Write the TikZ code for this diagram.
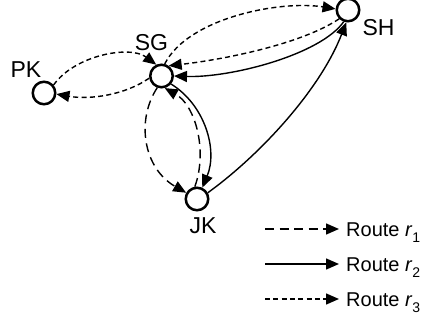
\documentclass[tikz,border=0pt]{standalone}
\usepackage{fontspec}
\setmainfont{Liberation Sans}
\usetikzlibrary{arrows.meta}
\begin{document}
\begin{tikzpicture}[x=1pt,y=-1pt,
  station/.style={circle,draw,line width=2.5pt,minimum size=22.5pt,inner sep=0pt},
  lbl/.style={anchor=base,inner sep=0pt,font=\fontsize{23}{23}\selectfont},
  leg/.style={anchor=base west,inner sep=0pt,font=\fontsize{20}{20}\selectfont},
  route/.style={line width=1.4pt,-{Triangle[length=13pt,width=11pt]}},
  rA/.style={route,dash pattern=on 9pt off 5.5pt},
  rB/.style={route},
  rC/.style={route,dash pattern=on 5pt off 3.3pt}]
\path[use as bounding box] (0,0) rectangle (429,321);
% stations
\node[station] (SG) at (161.5,76) {};
\node[station] (PK) at (44,93) {};
\node[station] (SH) at (348,10) {};
\node[station] (JK) at (197,199) {};
% labels
\node[lbl] (SGl) at (151.5,50.5) {SG};
\node[lbl] (PKl) at (26,77.5) {PK};
\node[lbl] (SHl) at (378.5,35.5) {SH};
\node[lbl] (JKl) at (203,233.5) {JK};
% routes
\draw[rC] (SG.75) .. controls (188,18) and (280,0) .. (SH.175);
\draw[rC] (SH.225) .. controls (300,45) and (220,60) .. (SG.55);
\draw[rB] (SH.250) .. controls (320,55) and (230,78) .. (SG.0);
\draw[rB] (JK.30) .. controls (260,155) and (320,90) .. (SH.262);
\draw[rB] (SG.-40) .. controls (205,105) and (218,150) .. (JK.65);
\draw[rA] (SG.250) .. controls (136,120) and (143,168) .. (JK.150);
\draw[rA] (JK.100) .. controls (208,150) and (195,105) .. (SG.-75);
\draw[rC] (PK.40) .. controls (75,55) and (130,45) .. (SG.115);
\draw[rC] (SG.190) .. controls (125,95) and (90,100) .. (PK.-5);
% legend
\coordinate (a1) at (265,229); \coordinate (b1) at (339,229);
\coordinate (a2) at (265,264); \coordinate (b2) at (339,264);
\coordinate (a3) at (265,299); \coordinate (b3) at (339,299);
\draw[rA] (a1) -- (b1);
\draw[rB] (a2) -- (b2);
\draw[rC] (a3) -- (b3);
\node[leg] (t1) at (346,236.2) {Route \textit{r}\raisebox{-0.3em}{\fontsize{14}{14}\selectfont 1}};
\node[leg] (t2) at (346,271.2) {Route \textit{r}\raisebox{-0.3em}{\fontsize{14}{14}\selectfont 2}};
\node[leg] (t3) at (346,306.2) {Route \textit{r}\raisebox{-0.3em}{\fontsize{14}{14}\selectfont 3}};
\end{tikzpicture}
\end{document}
